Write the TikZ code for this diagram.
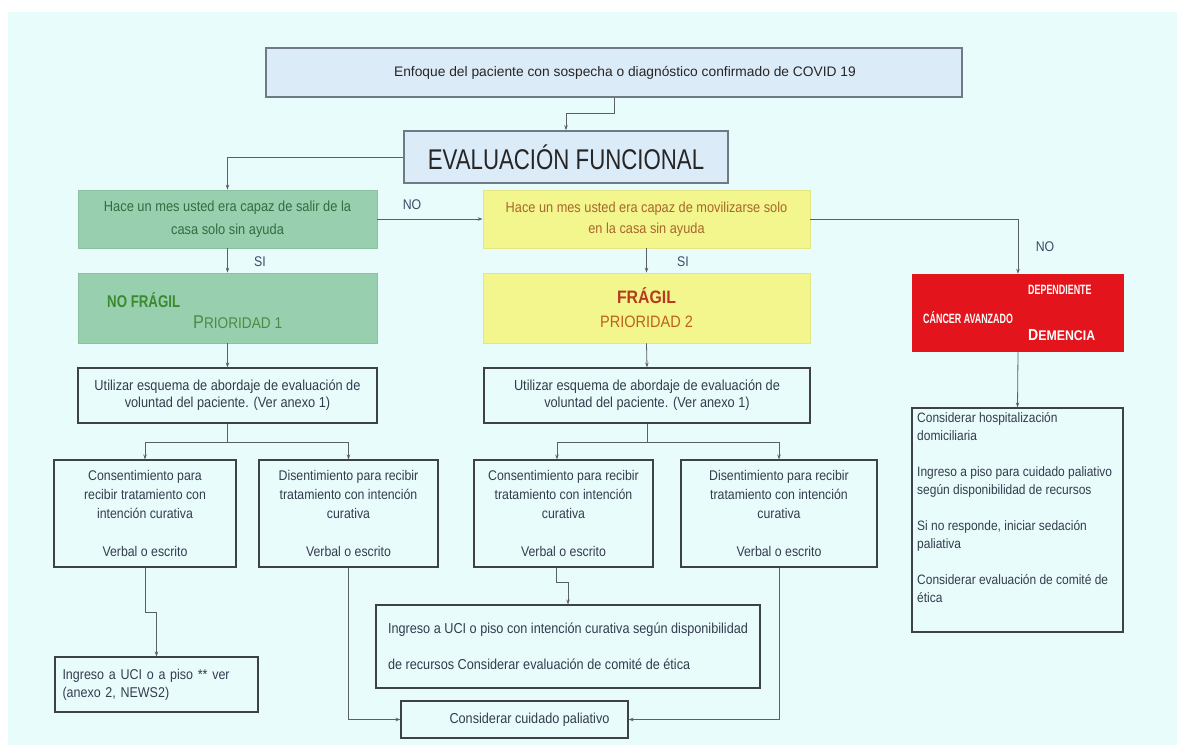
\documentclass[tikz,border=0pt]{standalone}
\usepackage{fontspec}
\setmainfont{Liberation Sans}
\newfontfamily\condf[FakeStretch=0.78]{Liberation Sans}
\newfontfamily\narf[FakeStretch=0.88]{Liberation Sans}
\newfontfamily\vcondf[FakeStretch=0.66]{Liberation Sans}
\usetikzlibrary{arrows.meta}
\definecolor{bg}{HTML}{E9FCFC}
\definecolor{topfill}{HTML}{DCEBF8}
\definecolor{topborder}{HTML}{6F7A84}
\definecolor{greenfill}{HTML}{98CFAE}
\definecolor{greenborder}{HTML}{8DBFA2}
\definecolor{greentext}{HTML}{356B40}
\definecolor{nfgreen}{HTML}{3C8A2E}
\definecolor{prio1}{HTML}{4E8A44}
\definecolor{yellowfill}{HTML}{F3F68C}
\definecolor{yellowborder}{HTML}{E2E684}
\definecolor{yellowtext}{HTML}{A9662C}
\definecolor{fragred}{HTML}{B53A1E}
\definecolor{prio2}{HTML}{C0601E}
\definecolor{redfill}{HTML}{E3141B}
\definecolor{boxborder}{HTML}{3E4248}
\definecolor{textc}{HTML}{333C4C}
\definecolor{linec}{HTML}{5A6068}
\definecolor{labelc}{HTML}{3A4A66}
\tikzset{
  arr/.style={-{Stealth[length=5pt,width=3.5pt]}, draw=linec, line width=0.8pt},
  wbox/.style={draw=boxborder, line width=1.1pt, inner sep=0pt, align=center,
    text=textc, font=\narf\fontsize{14}{19}\selectfont},
  lbl/.style={text=labelc, font=\narf\fontsize{14}{15}\selectfont, inner sep=0pt}
}
\begin{document}
\begin{tikzpicture}[x=1pt,y=-1pt]
\useasboundingbox (0,0) rectangle (1177,745);
\fill[white] (0,0) rectangle (1177,745);
\fill[bg] (8,12) rectangle (1177,745);

% top box
\node[draw=topborder, fill=topfill, line width=1.6pt, minimum width=696pt, minimum height=49pt,
  inner sep=0pt, text=black!85, font=\fontsize{13.8}{16}\selectfont] (top) at (614,72.5)
  {\hspace*{22pt}Enfoque del paciente con sospecha o diagnóstico confirmado de COVID 19};

\node[draw=topborder, fill=topfill, line width=1.6pt, minimum width=324pt, minimum height=52pt,
  inner sep=0pt, text=black!85, font=\condf\fontsize{28.5}{30}\selectfont] (eval) at (566,157)
  {EVALUACIÓN FUNCIONAL};

% questions
\node[draw=greenborder, fill=greenfill, line width=0.8pt, minimum width=299pt, minimum height=58pt,
  inner sep=0pt, align=center, text=greentext, font=\narf\fontsize{14.6}{23}\selectfont] (q1) at (227.5,219)
  {Hace un mes usted era capaz de salir de la\\casa solo sin ayuda};
\node[draw=yellowborder, fill=yellowfill, line width=0.8pt, minimum width=327pt, minimum height=58pt,
  inner sep=0pt, align=center, text=yellowtext, font=\narf\fontsize{14.5}{21}\selectfont] (q2) at (646.5,219)
  {Hace un mes usted era capaz de movilizarse solo\\en la casa sin ayuda};

% categories
\node[draw=greenborder, fill=greenfill, line width=0.8pt, minimum width=299pt, minimum height=70pt,
  inner sep=0pt] (nf) at (227.5,308) {};
\node[text=nfgreen, font=\condf\bfseries\fontsize{17}{18}\selectfont, inner sep=0pt, anchor=west] (nft) at (107,300) {NO FRÁGIL};
\node[text=prio1, font=\narf\fontsize{15.5}{17}\selectfont, inner sep=0pt, anchor=west] (p1t) at (193,322)
  {{\fontsize{18.5}{19}\selectfont P}RIORIDAD 1};

\node[draw=yellowborder, fill=yellowfill, line width=0.8pt, minimum width=327pt, minimum height=70pt,
  inner sep=0pt, align=center] (fr) at (646.5,308)
  {\textcolor{fragred}{\narf\bfseries\fontsize{18}{18}\selectfont FRÁGIL}\\[12pt]
   \textcolor{prio2}{\narf\fontsize{16.5}{17}\selectfont PRIORIDAD 2}};

\node[fill=redfill, minimum width=212pt, minimum height=78pt, inner sep=0pt] (dep) at (1018,313) {};
\node[text=white, font=\vcondf\bfseries\fontsize{13.5}{14}\selectfont, inner sep=0pt, anchor=west] (dept) at (1028,290) {DEPENDIENTE};
\node[text=white, font=\vcondf\bfseries\fontsize{13.5}{14}\selectfont, inner sep=0pt, anchor=west] (cant) at (923,318) {CÁNCER AVANZADO};
\node[text=white, font=\narf\bfseries\fontsize{14}{15}\selectfont, inner sep=0pt, anchor=west] (demt) at (1028,335)
  {{\fontsize{16}{16}\selectfont D}EMENCIA};

% utilizar
\node[wbox, minimum width=299pt, minimum height=55pt, font=\narf\fontsize{14.5}{17}\selectfont] (u1) at (227.5,395.5)
  {Utilizar esquema de abordaje de evaluación de\\voluntad del paciente. (Ver anexo 1)};
\node[wbox, minimum width=326pt, minimum height=55pt, font=\narf\fontsize{14.5}{17}\selectfont] (u2) at (647,395.5)
  {Utilizar esquema de abordaje de evaluación de\\voluntad del paciente. (Ver anexo 1)};

% consent boxes
\node[wbox, minimum width=182pt, minimum height=107pt] (c1) at (145,513.5)
  {Consentimiento para\\recibir tratamiento con\\intención curativa\\[19pt]Verbal o escrito};
\node[wbox, minimum width=179pt, minimum height=107pt] (d1) at (348.5,513.5)
  {Disentimiento para recibir\\tratamiento con intención\\curativa\\[19pt]Verbal o escrito};
\node[wbox, minimum width=179pt, minimum height=107pt] (c2) at (563.5,513.5)
  {Consentimiento para recibir\\tratamiento con intención\\curativa\\[19pt]Verbal o escrito};
\node[wbox, minimum width=196pt, minimum height=107pt] (d2) at (779,513.5)
  {Disentimiento para recibir\\tratamiento con intención\\curativa\\[19pt]Verbal o escrito};

% right box
\node[wbox, minimum width=211pt, minimum height=224pt] (rb) at (1017.5,520) {};
\node[text=textc, font=\narf\fontsize{13.6}{18}\selectfont, align=left, inner sep=0pt, anchor=north west] (rbt) at (917,412)
  {Considerar hospitalización\\domiciliaria\\[18pt]Ingreso a piso para cuidado paliativo\\según disponibilidad de recursos\\[18pt]Si no responde, iniciar sedación\\paliativa\\[18pt]Considerar evaluación de comité de\\ética};

% bottom boxes
\node[wbox, minimum width=203pt, minimum height=55pt, align=left, text width=188pt,
  font=\narf\fontsize{14.2}{18}\selectfont] (ing1) at (156.5,684.5)
  {Ingreso a UCI o a piso ** ver\\(anexo 2, NEWS2)\\[-4pt]};
\node[wbox, minimum width=384pt, minimum height=83pt, align=left,
  font=\narf\fontsize{14.4}{36}\selectfont] (ing2) at (568,646.5)
  {Ingreso a UCI o piso con intención curativa según disponibilidad\\de recursos Considerar evaluación de comité de ética};
\node[wbox, minimum width=227pt, minimum height=37pt, font=\narf\fontsize{14.4}{16}\selectfont] (pal) at (514.5,719.5)
  {\hspace*{30pt}Considerar cuidado paliativo};

% connectors
\draw[arr] (top.south) -- ++(0,16) -| (eval.north);
\draw[arr] (eval.west) -| (q1.north);
\draw[arr] (q1.east) -- (q2.west);
\draw[arr] (q1.south) -- (nf.north);
\draw[arr] (q2.south) -- (fr.north);
\draw[arr] (q2.east) -| (dep.north);
\draw[arr] (nf.south) -- (u1.north);
\draw[arr] (fr.south) -- (u2.north);
\draw[arr] (dep.south) -- (rb.north);
\draw[arr] (u1.south) -- ++(0,19) -| (c1.north);
\draw[arr] (u1.south) -- ++(0,19) -| (d1.north);
\draw[arr] (u2.south) -- ++(0,19) -| ([xshift=-6.5pt]c2.north);
\draw[arr] (u2.south) -- ++(0,19) -| (d2.north);
\draw[arr] (c1.south) -- ++(0,45) -| (ing1.north);
\draw[arr] ([xshift=-7.5pt]c2.south) -- ++(0,15) -| (ing2.north);
\draw[arr] (d1.south) |- (pal.west);
\draw[arr] (d2.south) |- (pal.east);

% labels
\node[lbl] (no1) at (412,205) {NO};
\node[lbl] (si1) at (260,262) {SI};
\node[lbl] (si2) at (683,262) {SI};
\node[lbl] (no2) at (1045,247) {NO};
\end{tikzpicture}
\end{document}
